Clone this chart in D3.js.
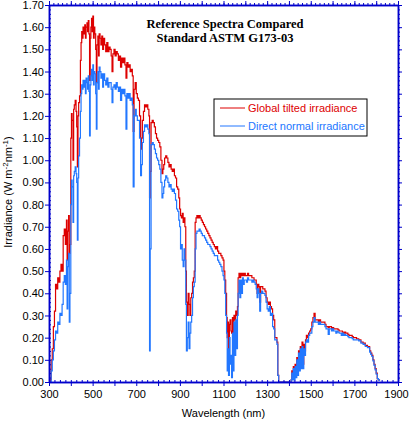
<!DOCTYPE html>
<html>
<head>
<style>
  body { margin: 0; background: #fff; }
  svg { display: block; }
  .tick text { font-family: "Liberation Sans", Arial, sans-serif; font-size: 11px; fill: #000; }
</style>
</head>
<body>
<script src="https://d3js.org/d3.v7.min.js"></script>
<script>
// wavelength (nm)
const wavelengths = [
  300,305,310,315,320,325,330,335,340,345,350,355,360,365,370,375,380,383,386,390,393,396,
  400,403,406,410,413,416,420,424,427,430,433,436,440,444,447,450,453,456,460,464,467,470,
  474,477,480,483,486,489,492,495,498,501,504,507,510,514,517,520,524,527,530,534,538,542,
  546,550,555,560,565,570,575,580,585,589,593,598,603,608,613,618,623,628,633,638,643,648,
  653,657,662,667,672,677,682,686,690,695,700,705,710,715,720,724,728,733,738,743,748,753,
  758,761,764,768,773,778,783,788,793,798,803,808,813,818,822,826,830,835,840,845,850,855,
  860,865,870,875,880,885,890,895,899,903,907,911,915,919,923,927,930,934,938,942,946,950,
  954,958,962,966,970,974,978,983,988,993,998,1003,1008,1013,1018,1023,1028,1033,1038,1043,
  1048,1053,1058,1063,1068,1073,1078,1083,1088,1093,1098,1102,1106,1110,1114,1117,1120,1123,
  1127,1130,1134,1137,1141,1144,1148,1152,1156,1160,1164,1167,1171,1175,1179,1183,1187,1191,
  1195,1200,1205,1210,1215,1220,1225,1230,1235,1240,1245,1250,1254,1258,1262,1266,1270,1275,
  1280,1285,1290,1295,1300,1305,1310,1315,1320,1325,1330,1335,1340,1345,1349,1353,1400,1410,
  1413,1416,1420,1424,1428,1432,1436,1440,1444,1448,1452,1456,1460,1464,1468,1472,1476,1480,
  1485,1490,1495,1500,1505,1510,1515,1520,1525,1530,1535,1540,1545,1550,1555,1560,1565,1570,
  1575,1580,1585,1590,1595,1600,1605,1610,1615,1620,1625,1630,1635,1640,1645,1650,1655,1660,
  1665,1670,1675,1680,1685,1690,1695,1700,1710,1720,1730,1740,1750,1760,1770,1775,1780,1785,
  1790,1795,1800,1805,1810,1815
];

// Global tilted irradiance (W m-2 nm-1)
const globalTilted = [
  0.00,0.01,0.10,0.15,0.25,0.32,0.44,0.42,0.47,0.45,0.50,0.53,0.50,0.66,0.69,0.62,0.73,0.55,0.68,0.75,0.58,0.62,
  1.10,1.21,1.18,1.00,1.23,1.25,1.27,1.22,1.15,0.97,1.20,1.26,1.29,1.45,1.53,1.58,1.55,1.60,1.57,1.61,1.55,1.60,
  1.62,1.58,1.63,1.57,1.36,1.55,1.60,1.64,1.58,1.65,1.55,1.60,1.57,1.50,1.35,1.52,1.56,1.47,1.57,1.55,1.52,1.56,
  1.50,1.55,1.52,1.49,1.53,1.49,1.51,1.50,1.47,1.40,1.48,1.50,1.47,1.49,1.48,1.45,1.47,1.42,1.46,1.44,1.46,1.43,
  1.37,1.44,1.42,1.43,1.40,1.41,1.38,1.13,1.32,1.35,1.30,1.28,1.27,1.20,1.05,1.10,1.18,1.22,1.25,1.24,1.25,1.23,
  1.20,0.83,0.95,1.17,1.18,1.17,1.15,1.12,1.10,1.09,1.08,1.06,1.00,0.94,0.96,0.98,1.01,1.02,1.01,0.99,0.97,0.98,
  0.96,0.95,0.96,0.93,0.92,0.88,0.87,0.83,0.78,0.75,0.74,0.76,0.72,0.74,0.70,0.50,0.36,0.30,0.40,0.35,0.30,0.38,
  0.40,0.45,0.47,0.50,0.72,0.74,0.75,0.74,0.75,0.74,0.73,0.72,0.71,0.70,0.69,0.68,0.67,0.66,0.65,0.64,
  0.63,0.62,0.61,0.60,0.61,0.59,0.58,0.58,0.57,0.56,0.55,0.50,0.46,0.40,0.29,0.20,0.27,0.12,
  0.26,0.28,0.23,0.22,0.29,0.20,0.30,0.28,0.32,0.30,0.34,0.47,0.49,0.47,0.49,0.48,0.49,0.48,
  0.49,0.48,0.48,0.49,0.48,0.48,0.48,0.47,0.47,0.46,0.46,0.44,0.40,0.44,0.43,0.36,0.43,0.43,
  0.42,0.42,0.41,0.38,0.36,0.35,0.36,0.34,0.33,0.30,0.28,0.20,0.20,0.18,0.03,0.00,0.00,0.01,
  0.05,0.02,0.07,0.03,0.08,0.04,0.11,0.05,0.14,0.07,0.16,0.10,0.18,0.08,0.17,0.14,0.19,0.21,
  0.20,0.22,0.23,0.24,0.27,0.29,0.31,0.28,0.28,0.28,0.27,0.28,0.27,0.27,0.27,0.27,0.26,0.25,
  0.25,0.245,0.25,0.25,0.24,0.245,0.24,0.24,0.24,0.24,0.235,0.23,0.23,0.23,0.225,0.22,0.225,0.22,
  0.22,0.215,0.21,0.21,0.21,0.205,0.20,0.20,0.195,0.19,0.18,0.175,0.165,0.16,0.14,0.13,0.12,0.10,
  0.08,0.06,0.04,0.015,0.01,0.005
];

// Direct normal irradiance (W m-2 nm-1)
const directNormal = [
  0.00,0.00,0.05,0.10,0.14,0.19,0.23,0.22,0.27,0.26,0.31,0.30,0.35,0.45,0.48,0.44,0.55,0.33,0.52,0.58,0.27,0.40,
  0.80,0.91,0.88,0.72,0.93,0.95,0.97,0.94,0.90,0.64,0.92,1.02,1.10,1.22,1.30,1.34,1.32,1.36,1.33,1.36,1.30,1.37,
  1.35,1.32,1.38,1.31,1.11,1.34,1.38,1.41,1.36,1.43,1.34,1.40,1.39,1.30,1.14,1.35,1.40,1.32,1.42,1.40,1.37,1.39,
  1.33,1.39,1.36,1.34,1.37,1.33,1.35,1.35,1.32,1.26,1.33,1.34,1.32,1.35,1.33,1.31,1.33,1.27,1.32,1.30,1.32,1.29,
  1.14,1.30,1.28,1.30,1.27,1.28,1.25,0.88,1.20,1.23,1.20,1.18,1.18,1.10,0.93,0.98,1.08,1.13,1.16,1.15,1.16,1.14,
  1.12,0.14,0.60,1.07,1.08,1.07,1.05,1.03,1.01,1.00,0.98,0.96,0.90,0.83,0.85,0.88,0.91,0.93,0.92,0.90,0.88,0.89,
  0.87,0.86,0.87,0.85,0.82,0.78,0.77,0.73,0.70,0.60,0.62,0.55,0.52,0.60,0.55,0.35,0.14,0.20,0.27,0.15,0.22,0.27,
  0.30,0.38,0.43,0.45,0.60,0.67,0.68,0.68,0.69,0.68,0.67,0.66,0.66,0.65,0.64,0.63,0.62,0.62,0.61,0.60,
  0.59,0.58,0.57,0.57,0.57,0.55,0.54,0.53,0.52,0.50,0.48,0.46,0.40,0.30,0.22,0.05,0.15,0.03,
  0.20,0.08,0.12,0.02,0.22,0.05,0.27,0.12,0.28,0.15,0.30,0.40,0.46,0.38,0.46,0.40,0.47,0.44,
  0.46,0.46,0.45,0.47,0.46,0.46,0.46,0.45,0.46,0.45,0.44,0.42,0.38,0.42,0.40,0.32,0.40,0.41,
  0.40,0.40,0.39,0.36,0.33,0.32,0.34,0.30,0.31,0.25,0.24,0.19,0.19,0.17,0.03,0.00,0.00,0.01,
  0.04,0.01,0.06,0.01,0.07,0.02,0.10,0.03,0.13,0.05,0.15,0.06,0.16,0.06,0.15,0.12,0.18,0.19,
  0.18,0.21,0.22,0.22,0.25,0.27,0.29,0.27,0.27,0.27,0.26,0.27,0.26,0.26,0.26,0.26,0.25,0.24,
  0.24,0.215,0.24,0.24,0.23,0.24,0.23,0.23,0.22,0.23,0.225,0.22,0.22,0.21,0.22,0.21,0.215,0.21,
  0.21,0.205,0.20,0.20,0.20,0.195,0.19,0.19,0.19,0.185,0.175,0.17,0.16,0.155,0.135,0.125,0.115,0.095,
  0.075,0.055,0.035,0.015,0.01,0.005
];

const xTickLabels = [300, 500, 700, 900, 1100, 1300, 1500, 1700, 1900];
const yTickLabels = [0.00,0.10,0.20,0.30,0.40,0.50,0.60,0.70,0.80,0.90,1.00,1.10,1.20,1.30,1.40,1.50,1.60,1.70];
const titleLines = ["Reference Spectra Compared", "Standard ASTM G173-03"];
const seriesNames = ["Global tilted irradiance", "Direct normal irradiance"];

const W = 409, H = 422;
const mLeft = 49, mRight = 398, mTop = 5, mBottom = 382;
const axisColor = "#0000cc";
const red = "#dd0000", blue = "#2277ff";

const svg = d3.select("body").append("svg").attr("width", W).attr("height", H);

const x = d3.scaleLinear().domain([300, 1900]).range([mLeft, mRight]);
const y = d3.scaleLinear().domain([0, 1.7]).range([mBottom, mTop]);

svg.append("clipPath").attr("id", "plot")
  .append("rect").attr("x", mLeft).attr("y", mTop).attr("width", mRight - mLeft).attr("height", mBottom - mTop);

const line = vals => d3.line()
  .x((d, i) => x(wavelengths[i]))
  .y(d => y(d))
  .curve(d3.curveStepAfter)(vals);

const g = svg.append("g").attr("clip-path", "url(#plot)");
g.append("path").attr("d", line(globalTilted)).attr("fill", "none").attr("stroke", red).attr("stroke-width", 1.2);
g.append("path").attr("d", line(directNormal)).attr("fill", "none").attr("stroke", blue).attr("stroke-width", 1.2);

// tick positions
const xMajor = d3.range(300, 1901, 100);
const xMinorBottom = d3.range(300, 1901, 25);
const xMinorTop = d3.range(300, 1901, 20);
const yMajor = d3.range(0, 18).map(i => i / 10);
const yMinor = d3.range(0, 86).map(i => i / 50);

function styleAxis(sel) {
  sel.selectAll("path, line").attr("stroke", axisColor);
  sel.select("path.domain").attr("stroke-width", 1.5);
  sel.selectAll("line").attr("stroke-width", 1);
}

// bottom
svg.append("g").attr("transform", `translate(0,${mBottom})`)
  .call(d3.axisBottom(x).tickValues(xMajor).tickSize(4).tickSizeOuter(0).tickPadding(4)
    .tickFormat(d => xTickLabels.includes(d) ? d : ""))
  .call(styleAxis)
  .selectAll(".tick text").filter(d => d === 1900).attr("dx", -2);
svg.append("g").attr("transform", `translate(0,${mBottom})`)
  .call(d3.axisTop(x).tickValues(xMinorBottom).tickSize(2).tickSizeOuter(0).tickFormat(""))
  .call(styleAxis);

// top
svg.append("g").attr("transform", `translate(0,${mTop})`)
  .call(d3.axisTop(x).tickValues(xMajor).tickSize(4).tickSizeOuter(0).tickFormat(""))
  .call(styleAxis);
svg.append("g").attr("transform", `translate(0,${mTop})`)
  .call(d3.axisTop(x).tickValues(xMinorTop).tickSize(2).tickSizeOuter(0).tickFormat(""))
  .call(styleAxis);

// left
svg.append("g").attr("transform", `translate(${mLeft},0)`)
  .call(d3.axisLeft(y).tickValues(yMajor).tickSize(4).tickSizeOuter(0).tickPadding(1)
    .tickFormat(d => d3.format(".2f")(yTickLabels.find(v => Math.abs(v - d) < 1e-9))))
  .call(styleAxis);
svg.append("g").attr("transform", `translate(${mLeft},0)`)
  .call(d3.axisRight(y).tickValues(yMinor).tickSize(2).tickSizeOuter(0).tickFormat(""))
  .call(styleAxis);

// right
svg.append("g").attr("transform", `translate(${mRight},0)`)
  .call(d3.axisRight(y).tickValues(yMajor).tickSize(4).tickSizeOuter(0).tickFormat(""))
  .call(styleAxis);
svg.append("g").attr("transform", `translate(${mRight},0)`)
  .call(d3.axisRight(y).tickValues(yMinor).tickSize(2).tickSizeOuter(0).tickFormat(""))
  .call(styleAxis);

// title
svg.append("g").selectAll("text").data(titleLines).enter().append("text")
  .attr("x", 225).attr("y", (d, i) => 28 + i * 14)
  .attr("text-anchor", "middle")
  .style("font-family", "'Liberation Serif', 'Times New Roman', serif")
  .style("font-weight", "bold").style("font-size", "12.5px")
  .text(d => d);

// legend
const lg = svg.append("g");
lg.append("rect").attr("x", 214).attr("y", 99).attr("width", 153).attr("height", 37)
  .attr("fill", "#fff").attr("stroke", "#000").attr("stroke-width", 1);
[red, blue].forEach((c, i) => {
  const ly = 108 + i * 18;
  lg.append("line").attr("x1", 220).attr("x2", 245).attr("y1", ly).attr("y2", ly)
    .attr("stroke", c).attr("stroke-width", 1);
  lg.append("text").attr("x", 248).attr("y", ly + 4)
    .style("font-family", "'Liberation Sans', Arial, sans-serif").style("font-size", "11px")
    .attr("fill", c).text(seriesNames[i]);
});

// axis titles
svg.append("text").attr("x", (mLeft + mRight) / 2).attr("y", 417).attr("text-anchor", "middle")
  .style("font-family", "'Liberation Sans', Arial, sans-serif").style("font-size", "11px")
  .text("Wavelength (nm)");

const yl = svg.append("text").attr("transform", "translate(12,192) rotate(-90)")
  .attr("text-anchor", "middle")
  .style("font-family", "'Liberation Sans', Arial, sans-serif").style("font-size", "11px");
yl.append("tspan").text("Irradiance (W m");
yl.append("tspan").attr("dy", -4).style("font-size", "8px").text("-2");
yl.append("tspan").attr("dy", 4).text("nm");
yl.append("tspan").attr("dy", -4).style("font-size", "8px").text("-1");
yl.append("tspan").attr("dy", 4).text(")");
</script>
</body>
</html>
